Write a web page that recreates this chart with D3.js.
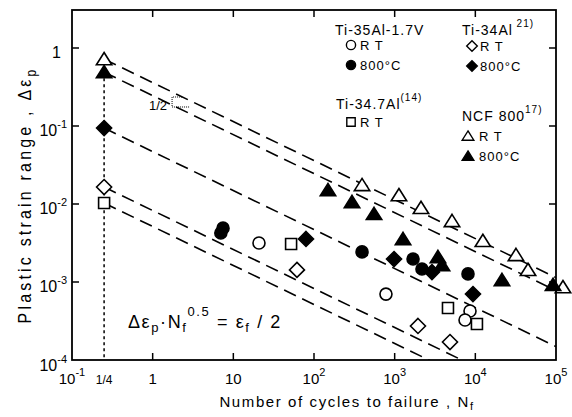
<!DOCTYPE html>
<html>
<head>
<meta charset="utf-8">
<script src="https://cdn.jsdelivr.net/npm/d3@7"></script>
<style>
  body { margin: 0; background: #fff; }
  svg { font-family: "Liberation Sans", Arial, sans-serif; }
</style>
</head>
<body>
<svg id="chart" width="572" height="417"></svg>
<script>
// Data: [cycles to failure Nf, plastic strain range]
var tiVRT = [[20.8, 3.16e-3], [780, 7.0e-4], [8590, 4.25e-4], [7450, 3.26e-4]];
var tiVHT = [[7.0, 4.25e-3], [7.45, 4.9e-3], [394, 2.43e-3], [1690, 1.97e-3], [2180, 1.47e-3], [8110, 1.27e-3]];
var ti347RT = [[0.25, 0.0103], [52, 3.07e-3], [4580, 4.64e-4], [10470, 2.9e-4]];
var ti34RT = [[0.25, 0.0165], [61.5, 1.43e-3], [1945, 2.73e-4], [4850, 1.7e-4]];
var ti34HT = [[0.25, 0.094], [79.6, 3.56e-3], [982, 1.97e-3], [2900, 1.34e-3], [9350, 7.0e-4]];
var ncfRT = [[0.25, 0.72], [394, 0.0175], [1130, 0.013], [2120, 8.9e-3], [5140, 6.05e-3],
             [12400, 3.36e-3], [31900, 2.22e-3], [45000, 1.43e-3], [122000, 8.6e-4]];
var ncfHT = [[0.25, 0.49], [149, 0.0151], [296, 0.0106], [555, 7.45e-3], [1270, 3.56e-3],
             [3440, 2.09e-3], [3860, 1.65e-3], [21400, 1.06e-3], [91900, 9.2e-4]];

// fracture ductility eps_f of each Coffin-Manson line (value at Nf = 1/4)
var epsF = [0.72, 0.49, 0.094, 0.0165, 0.0103];

var xTicks = [0.1, 0.25, 1, 10, 100, 1e3, 1e4, 1e5];
var xTickLabels = [["10", "-1"], ["1/4", ""], ["1", ""], ["10", ""], ["10", "2"], ["10", "3"], ["10", "4"], ["10", "5"]];
var yTicks = [1, 0.1, 0.01, 1e-3, 1e-4];
var yTickLabels = [["1", ""], ["10", "-1"], ["10", "-2"], ["10", "-3"], ["10", "-4"]];

var margin = { top: 10, right: 16, bottom: 57, left: 72 };
var width = 572 - margin.left - margin.right;
var height = 417 - margin.top - margin.bottom;

var svg = d3.select("#chart");
var g = svg.append("g").attr("transform", "translate(" + margin.left + "," + margin.top + ")");

var x = d3.scaleLog().domain([0.1, 1e5]).range([0, width]);
var y = d3.scaleLog().domain([1e-4, 3.07]).range([height, 0]);

g.append("clipPath").attr("id", "clip")
  .append("rect").attr("width", width).attr("height", height);

// marker shapes
function shape(type, s) {
  if (type == "circle") return "M" + s + ",0A" + s + "," + s + " 0 1,1 " + (-s) + ",0A" + s + "," + s + " 0 1,1 " + s + ",0Z";
  if (type == "square") return "M" + (-s) + "," + (-s) + "H" + s + "V" + s + "H" + (-s) + "Z";
  if (type == "diamond") return "M0," + (-s) + "L" + s + ",0L0," + s + "L" + (-s) + ",0Z";
  if (type == "triangle") return "M0," + (-s * 0.95) + "L" + (s * 1.1) + "," + (s * 0.8) + "L" + (-s * 1.1) + "," + (s * 0.8) + "Z";
}

// frame ticks (inward, all four sides)
var tk = 7;
var tickG = g.append("g").attr("stroke", "#000").attr("stroke-width", 1.5);
[1, 10, 100, 1e3, 1e4].forEach(function (v) {
  tickG.append("line").attr("x1", x(v)).attr("x2", x(v)).attr("y1", height).attr("y2", height - tk);
  tickG.append("line").attr("x1", x(v)).attr("x2", x(v)).attr("y1", 0).attr("y2", tk);
});
[1, 0.1, 0.01, 1e-3].forEach(function (v) {
  tickG.append("line").attr("y1", y(v)).attr("y2", y(v)).attr("x1", 0).attr("x2", tk);
  tickG.append("line").attr("y1", y(v)).attr("y2", y(v)).attr("x1", width).attr("x2", width - tk);
});

// vertical dotted line at Nf = 1/4
g.append("line")
  .attr("x1", x(0.25)).attr("x2", x(0.25))
  .attr("y1", y(0.49)).attr("y2", height)
  .attr("stroke", "#000").attr("stroke-width", 1.5).attr("stroke-dasharray", "3,3");

// dashed lines  d_ep = (ef/2) * Nf^-0.5
var lineGen = d3.line().x(function (d) { return x(d[0]); }).y(function (d) { return y(d[1]); });
g.append("g").attr("clip-path", "url(#clip)")
  .selectAll("path").data(epsF).enter().append("path")
  .attr("d", function (ef) {
    return lineGen([0.25, 1e5].map(function (n) { return [n, ef / 2 * Math.pow(n, -0.5)]; }));
  })
  .attr("fill", "none").attr("stroke", "#000").attr("stroke-width", 1.6)
  .attr("stroke-dasharray", "13,7");

// slope annotation "1/2"
var sN = 1.74, sV = epsF[0] / 2 * Math.pow(sN, -0.5);
g.append("path")
  .attr("d", "M" + (x(sN) + 10) + "," + (y(sV) + 5) + "H" + x(sN) + "V" + (y(sV) + 15) + "H" + (x(sN) + 17))
  .attr("fill", "none").attr("stroke", "#000").attr("stroke-width", 1).attr("stroke-dasharray", "1,1");
g.append("text").attr("x", x(sN) - 5).attr("y", y(sV) + 18)
  .attr("text-anchor", "end").style("font-size", "13px").text("1/2");

// data markers
var series = [
  { data: tiVRT, type: "circle", fill: "#fff", s: 6 },
  { data: tiVHT, type: "circle", fill: "#000", s: 6 },
  { data: ti347RT, type: "square", fill: "#fff", s: 5.5 },
  { data: ti34RT, type: "diamond", fill: "#fff", s: 7.5 },
  { data: ti34HT, type: "diamond", fill: "#000", s: 7.5 },
  { data: ncfRT, type: "triangle", fill: "#fff", s: 7 },
  { data: ncfHT, type: "triangle", fill: "#000", s: 7 }
];
series.forEach(function (sr) {
  g.append("g").selectAll("path").data(sr.data).enter().append("path")
    .attr("transform", function (d) { return "translate(" + x(d[0]) + "," + y(d[1]) + ")"; })
    .attr("d", shape(sr.type, sr.s))
    .attr("fill", sr.fill).attr("stroke", "#000").attr("stroke-width", 1.6);
});

// frame
g.append("rect").attr("width", width).attr("height", height)
  .attr("fill", "none").attr("stroke", "#000").attr("stroke-width", 1.8);

// tick labels
xTicks.forEach(function (v, i) {
  var t = g.append("text").attr("x", x(v)).attr("y", height + 24)
    .attr("text-anchor", "middle").style("font-size", "15px");
  t.append("tspan").text(xTickLabels[i][0]).style("font-size", v == 0.25 ? "12px" : "15px");
  if (xTickLabels[i][1]) t.append("tspan").attr("dy", -8).style("font-size", "11px").text(xTickLabels[i][1]);
});
yTicks.forEach(function (v, i) {
  var t = g.append("text").attr("x", v == 1 ? -11 : -5).attr("y", y(v) + (v == 1e-4 ? 11 : 10))
    .attr("text-anchor", "end").style("font-size", "16px");
  t.append("tspan").text(yTickLabels[i][0]);
  if (yTickLabels[i][1]) t.append("tspan").attr("dy", -8).style("font-size", "11px").text(yTickLabels[i][1]);
});

// axis titles
var xt = svg.append("text").attr("x", 347).attr("y", 407).attr("text-anchor", "middle")
  .style("font-size", "15px").style("letter-spacing", "1.6px");
xt.append("tspan").text("Number of cycles to failure , N");
xt.append("tspan").attr("dy", 3).style("font-size", "11px").text("f");

var yt = svg.append("text").attr("transform", "translate(31,195) rotate(-90) scale(1,1.2)").attr("text-anchor", "middle")
  .style("font-size", "16px").style("letter-spacing", "3.2px");
yt.append("tspan").text("Plastic strain range , Δε");
yt.append("tspan").attr("dy", 4).style("font-size", "12px").text("p");

// formula
var ft = svg.append("text").attr("x", 128).attr("y", 328).style("font-size", "18px").style("letter-spacing", "1.6px");
ft.append("tspan").text("Δε");
ft.append("tspan").attr("dy", 4).style("font-size", "13px").text("p");
ft.append("tspan").attr("dy", -4).text("·N");
ft.append("tspan").attr("dy", 4).style("font-size", "13px").text("f");
ft.append("tspan").attr("dy", -16).style("font-size", "13px").text("0.5");
ft.append("tspan").attr("dy", 12).text(" = ε");
ft.append("tspan").attr("dy", 4).style("font-size", "13px").text("f");
ft.append("tspan").attr("dy", -4).text(" / 2");

// legend
var legend = [
  { title: "Ti-35Al-1.7V", sup: "", tx: 335, ty: 35, mx: 351, lx: 360, iy: [50, 70],
    items: [["circle", "#fff", "R T"], ["circle", "#000", "800°C"]] },
  { title: "Ti-34Al", sup: " 21)", tx: 462, ty: 35, mx: 472, lx: 480, iy: [51, 71],
    items: [["diamond", "#fff", "R T"], ["diamond", "#000", "800°C"]] },
  { title: "Ti-34.7Al", sup: "(14)", tx: 336, ty: 109, mx: 351, lx: 360, iy: [127],
    items: [["square", "#fff", "R T"]] },
  { title: "NCF 800", sup: "17)", tx: 462, ty: 121, mx: 468, lx: 479, iy: [141, 161],
    items: [["triangle", "#fff", "R T"], ["triangle", "#000", "800°C"]] }
];
var lsz = { circle: 4.6, square: 4.2, diamond: 5.3, triangle: 5.3 };
legend.forEach(function (L) {
  var t = svg.append("text").attr("x", L.tx).attr("y", L.ty).style("font-size", "14px").style("letter-spacing", "1px");
  t.append("tspan").text(L.title);
  if (L.sup) t.append("tspan").attr("dy", -8).style("font-size", "10px").text(L.sup);
  L.items.forEach(function (it, j) {
    var yy = L.iy[j];
    svg.append("path").attr("transform", "translate(" + L.mx + "," + (yy - 5) + ")")
      .attr("d", shape(it[0], lsz[it[0]]))
      .attr("fill", it[1]).attr("stroke", "#000").attr("stroke-width", 1.4);
    svg.append("text").attr("x", L.lx).attr("y", yy).style("font-size", "13px")
      .style("letter-spacing", "1px").text(it[2]);
  });
});
</script>
</body>
</html>
